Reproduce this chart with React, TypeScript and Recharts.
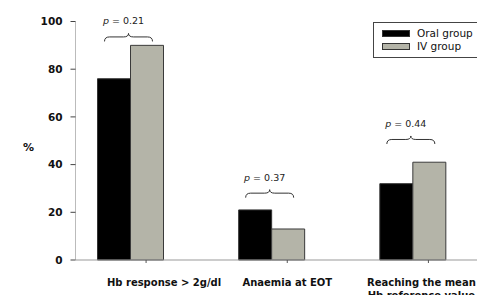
import React from 'react';
import { BarChart, Bar, XAxis, YAxis, Legend, Rectangle } from 'recharts';

const categories = ['Hb response > 2g/dl', 'Anaemia at EOT', 'Reaching the mean\nHb reference value'];
const seriesNames = ['Oral group', 'IV group'];
const oralGroup = [76, 21, 32];
const ivGroup = [90, 13, 41];
const pValues = ['0.21', '0.37', '0.44'];
// height (in %) where the tip of each brace sits
const braceLevel = [95, 29.5, 52];
const yTicks = [0, 20, 40, 60, 80, 100];

const data = categories.map((name, i) => ({
  name,
  oral: oralGroup[i],
  iv: ivGroup[i],
  p: pValues[i],
  brace: braceLevel[i],
}));

const FONT = '"DejaVu Sans", Arial, sans-serif';
const BAR_SHIFT = -16; // bars sit a little left of the tick marks in the original
const LABEL_SHIFT = [18, 0, -7];

const OralShape = (props: any) => {
  const { x, y, width, height, payload } = props;
  const left = x + BAR_SHIFT;
  const bottom = y + height;
  const perUnit = height / payload.oral;
  const tipY = bottom - payload.brace * perUnit;
  const cx = left + width - 2;
  const half = 24;
  const midY = tipY + 3.5;
  const endY = tipY + 8;
  const r = 5;
  const d = `M${cx - half},${endY} Q${cx - half},${midY} ${cx - half + r},${midY} L${cx - r},${midY} Q${cx},${midY} ${cx},${tipY} Q${cx},${midY} ${cx + r},${midY} L${cx + half - r},${midY} Q${cx + half},${midY} ${cx + half},${endY}`;
  return (
    <g>
      <Rectangle {...props} x={left} />
      <path d={d} fill="none" stroke="#333" strokeWidth={1} />
      <text x={cx - 5} y={tipY - 9} textAnchor="middle" fontFamily={FONT} fontSize={9.5} fill="#222">
        <tspan fontStyle="italic">p</tspan> = {payload.p}
      </text>
    </g>
  );
};

const IvShape = (props: any) => <Rectangle {...props} x={props.x + BAR_SHIFT} />;

const CategoryTick = ({ x, y, payload, index }: any) => {
  const lines = String(payload.value).split('\n');
  const tx = x + (LABEL_SHIFT[index] ?? 0);
  return (
    <text x={tx} y={y + 20.5} textAnchor="middle" fontFamily={FONT} fontWeight="bold" fontSize={10} fill="#111">
      {lines.map((l, i) => (
        <tspan key={i} x={tx} dy={i === 0 ? 0 : 13}>{l}</tspan>
      ))}
    </text>
  );
};

const LegendBox = ({ payload }: any) => {
  const items = seriesNames
    .map((n) => (payload || []).find((p: any) => p.value === n))
    .filter(Boolean);
  return (
    <div style={{ border: '1px solid #444', padding: '4px 0 4px 8px', background: '#fff', boxSizing: 'border-box', width: 108 }}>
      {items.map((p: any) => (
        <div key={p.value} style={{ display: 'flex', alignItems: 'center', height: 13 }}>
          <span style={{ display: 'inline-block', width: 26, height: 5, background: p.color, border: '1px solid #333', marginRight: 7 }} />
          <span style={{ fontFamily: FONT, fontSize: 10.5, color: '#111', lineHeight: '13px' }}>{p.value}</span>
        </div>
      ))}
    </div>
  );
};

export default function App() {
  return (
    <div style={{ width: 477, height: 287, overflow: 'hidden', position: 'relative' }}>
      <BarChart
        width={491}
        height={287}
        data={data}
        margin={{ top: 13.5, right: 0, left: 0, bottom: 0 }}
        barGap={0}
        barSize={33}
      >
        <XAxis
          dataKey="name"
          height={35}
          tickSize={3}
          axisLine={{ stroke: '#999' }}
          tickLine={{ stroke: '#555' }}
          tick={<CategoryTick />}
          interval={0}
        />
        <YAxis
          width={67.5}
          domain={[0, 100]}
          ticks={yTicks}
          tickSize={5}
          tickMargin={8}
          axisLine={{ stroke: '#bbb' }}
          tickLine={{ stroke: '#444' }}
          tick={{ fontFamily: FONT, fontWeight: 'bold', fontSize: 10.5, fill: '#111' }}
          label={{ value: '%', position: 'insideLeft', offset: 15, dy: 6, style: { fontFamily: FONT, fontWeight: 'bold', fontSize: 11, fill: '#111' } }}
        />
        <Legend
          layout="vertical"
          align="center"
          verticalAlign="middle"
          content={<LegendBox />}
          wrapperStyle={{ position: 'absolute', left: 365, top: 14, width: 108 }}
        />
        <Bar dataKey="oral" name="Oral group" fill="#000" stroke="#333" strokeWidth={1} shape={<OralShape />} isAnimationActive={false} />
        <Bar dataKey="iv" name="IV group" fill="#b4b4a8" stroke="#3a3a3a" strokeWidth={1} shape={<IvShape />} isAnimationActive={false} />
      </BarChart>
    </div>
  );
}
